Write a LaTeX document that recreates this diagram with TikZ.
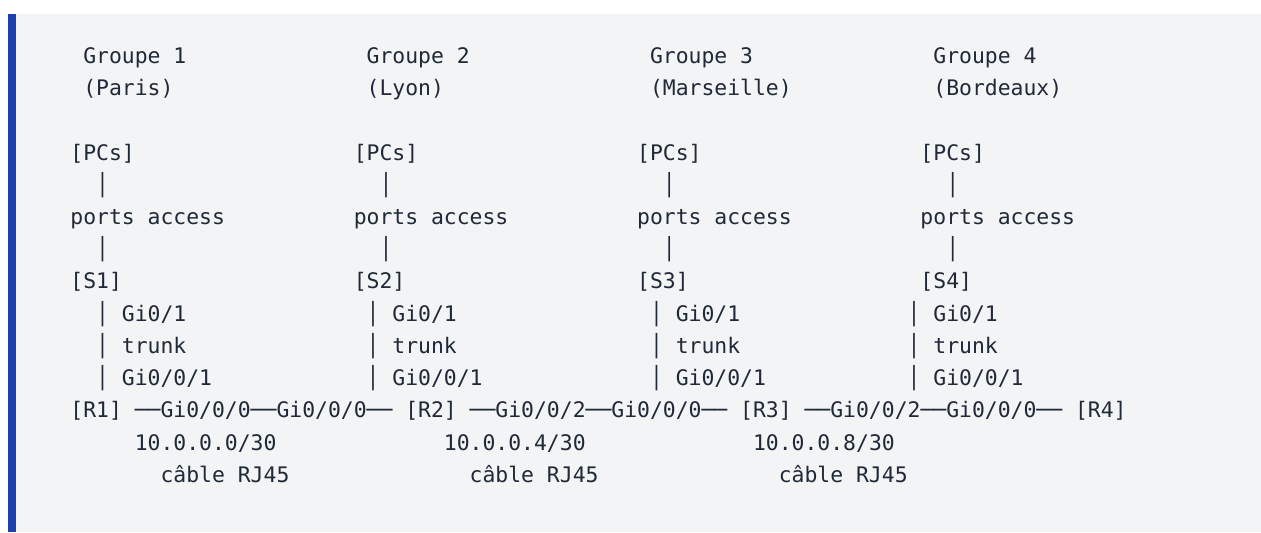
\documentclass[tikz,border=0pt]{standalone}
\usepackage{fontspec}
\newfontfamily\codefont{DejaVu Sans Mono}
\definecolor{codebg}{RGB}{243,244,246}
\definecolor{codebar}{RGB}{30,64,175}
\definecolor{codetext}{RGB}{31,41,55}

\begin{document}
\begin{tikzpicture}
[x=0.5pt,y=-0.5pt,
codeText/.style={anchor=base west,inner sep=0pt,text=codetext,
font=\codefont\fontsize{10.7pt}{12pt}\selectfont}]
  \fill[white] (0,0) rectangle (1261,532);
  \fill[codebg] (8,14) rectangle (1261,532);
  \fill[codebar] (8,14) rectangle (16,532);
  \begin{scope}[shift={(70,63.3)},x=6.44pt,y=-16.12pt]
  % one column per site
  \foreach \n/\c/\t/\city in {1/0/2/Paris,2/22/23/Lyon,3/44/45/Marseille,4/66/65/Bordeaux} {
    \node[codeText] (groupOF\n) at (\c+1,0) {Groupe \n};
    \node[codeText] (cityOF\n)  at (\c+1,1) {(\city)};
    \node[codeText] (pcsOF\n)   at (\c,3) {[PCs]};
    \node[codeText] (barOF\n)   at (\c+2,4) {│};
    \node[codeText] (accessOF\n) at (\c,5) {ports access};
    \node[codeText] (barbOF\n)  at (\c+2,6) {│};
    \node[codeText] (switchOF\n) at (\c,7) {[S\n]};
    \node[codeText] (upOF\n)    at (\t,8) {│ Gi0/1};
    \node[codeText] (trunkOF\n) at (\t,9) {│ trunk};
    \node[codeText] (downOF\n)  at (\t,10) {│ Gi0/0/1};
  }
  % routers and links
  \node[codeText] (routerOF1) at (0,11)  {[R1]};
  \node[codeText] (linkOF1)   at (5,11)  {──Gi0/0/0──Gi0/0/0──};
  \node[codeText] (routerOF2) at (26,11) {[R2]};
  \node[codeText] (linkOF2)   at (31,11) {──Gi0/0/2──Gi0/0/0──};
  \node[codeText] (routerOF3) at (52,11) {[R3]};
  \node[codeText] (linkOF3)   at (57,11) {──Gi0/0/2──Gi0/0/0──};
  \node[codeText] (routerOF4) at (78,11) {[R4]};
  \foreach \n/\c/\net in {1/5/0,2/29/4,3/53/8} {
    \node[codeText] (netOF\n)   at (\c,12) {10.0.0.\net/30};
    \node[codeText] (cableOF\n) at (\c+2,13) {câble RJ45};
  }
  \end{scope}
\end{tikzpicture}
\end{document}
